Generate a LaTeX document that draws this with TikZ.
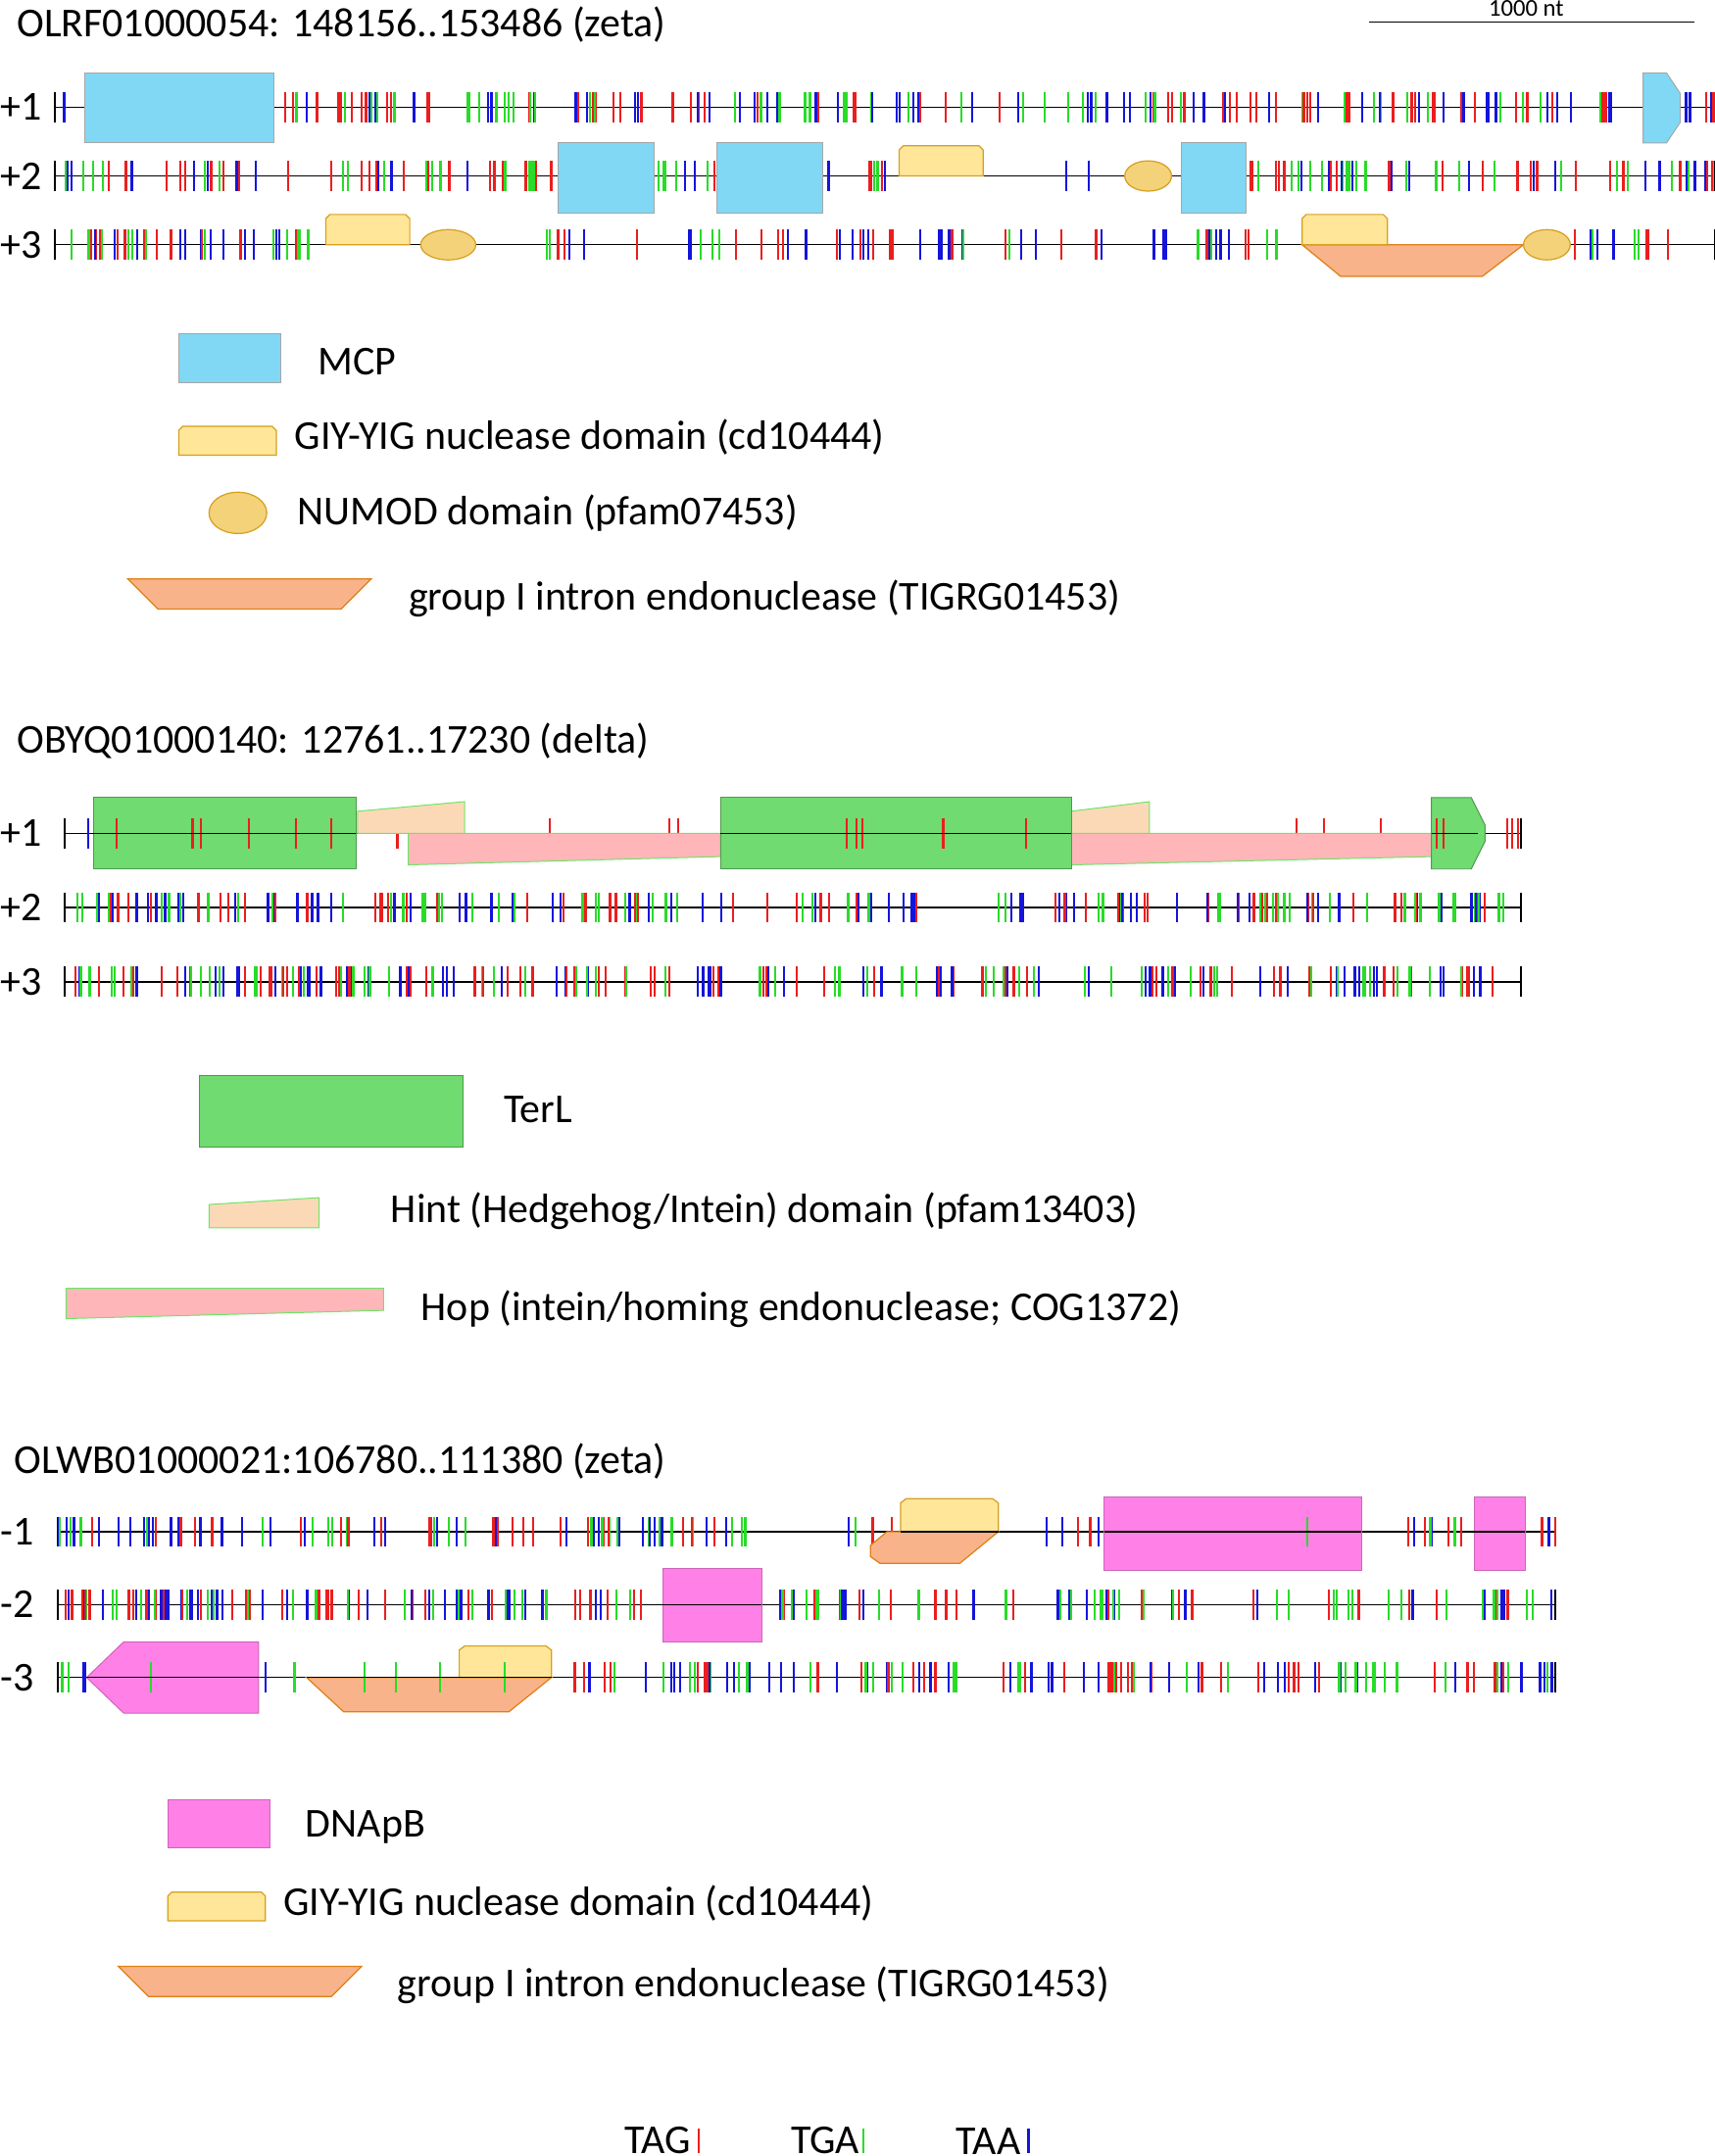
\documentclass[tikz,border=0pt]{standalone}
\usepackage{fontspec}
\setmainfont{Carlito}
\definecolor{c1}{RGB}{235,30,30}
\definecolor{c2}{RGB}{40,220,40}
\definecolor{c3}{RGB}{20,20,220}
\definecolor{mcp}{RGB}{128,216,245}
\definecolor{giy}{RGB}{255,230,153}
\definecolor{giyd}{RGB}{214,160,30}
\definecolor{numod}{RGB}{244,210,122}
\definecolor{intr}{RGB}{249,179,138}
\definecolor{terl}{RGB}{112,219,112}
\definecolor{hint}{RGB}{252,217,182}
\definecolor{hop}{RGB}{255,182,185}
\definecolor{dnap}{RGB}{255,128,230}
\tikzset{
 lab/.style={anchor=west,font=\fontsize{17}{20}\selectfont,inner sep=0},
 mcpb/.style={fill=mcp,draw=gray!70},
 giyb/.style={fill=giy,draw=giyd,line width=0.5pt},
 numb/.style={fill=numod,draw=giyd,line width=0.5pt},
 intb/.style={fill=intr,draw=giyd!80!red,line width=0.5pt},
 terb/.style={fill=terl,draw=terl!70!black,line width=0.4pt},
 hinb/.style={fill=hint,draw=c2!70,line width=0.4pt},
 hopb/.style={fill=hop,draw=c2!70,line width=0.4pt},
 dnab/.style={fill=dnap,draw=dnap!80!black,line width=0.4pt},
 tk/.style={line width=0.9pt}
}
\newcommand\stk[4]{\foreach \i in {1,...,#4}{\pgfmathsetmacro\xx{#2+rnd*(#3-#2)}\pgfmathparse{int(random(1,3))}\edef\cc{\pgfmathresult}\draw[tk,c\cc] (\xx,#1-11)--(\xx,#1+11);}}
\newcommand\trk[3]{\draw[line width=0.6pt] (#2,#1)--(#3,#1);\draw[line width=0.6pt] (#2,#1-11)--(#2,#1+11) (#3,#1-11)--(#3,#1+11);}
\begin{document}
\begin{tikzpicture}[x=0.02cm,y=-0.02cm]
\pgfmathsetseed{4242}
\useasboundingbox (0,0) rectangle (1247,1568);
% ===== section 1
\node[lab] (t1) at (12,18) {OLRF01000054: 148156..153486 (zeta)};
\draw[line width=0.6pt] (996,16)--(1232,16);
\node[font=\fontsize{10}{11}\selectfont,inner sep=0] (sb) at (1110,6) {1000 nt};
\foreach \y/\l in {78/+1,128/+2,178/+3}{\node[lab] at (0,\y) {\l};}
\trk{78}{40}{1247}\trk{128}{40}{1247}\trk{178}{40}{1247}
\stk{78}{40}{62}{2}\stk{78}{199}{240}{4}\stk{78}{230}{900}{110}\stk{78}{900}{1190}{40}\stk{78}{1222}{1247}{6}
\stk{78}{970}{1140}{12}
\stk{128}{40}{210}{22}\stk{128}{240}{406}{30}\stk{128}{476}{521}{8}\stk{128}{598}{645}{7}\stk{128}{760}{800}{2}\stk{128}{906}{1247}{55}
\stk{178}{40}{225}{38}\stk{178}{390}{560}{16}\stk{178}{560}{940}{45}\stk{178}{1140}{1247}{10}
\draw[mcpb] (62,53) rectangle (199,104);
\draw[mcpb] (1195,53)--(1212,53)--(1222,68)--(1222,89)--(1212,104)--(1195,104)--cycle;
\draw[mcpb] (406,104) rectangle (476,155);
\draw[mcpb] (521,104) rectangle (598,155);
\draw[mcpb] (859,104) rectangle (906,155);
\draw[giyb] (654,128)--(654,109)--(657,106)--(712,106)--(715,109)--(715,128)--cycle;
\draw[numb] (835,128) ellipse (17 and 11);
\draw[giyb] (237,178)--(237,159)--(240,156)--(295,156)--(298,159)--(298,178)--cycle;
\draw[numb] (326,178) ellipse (20 and 11);
\draw[intb] (947,178)--(1108,178)--(1078,201)--(975,201)--cycle;
\draw[giyb] (947,178)--(947,159)--(950,156)--(1006,156)--(1009,159)--(1009,178)--cycle;
\draw[numb] (1125,178) ellipse (17 and 11);
% legend 1
\draw[mcpb] (130,243) rectangle (204,278); \node[lab] at (231,263) {MCP};
\draw[giyb] (130,331)--(130,313)--(133,310)--(198,310)--(201,313)--(201,331)--cycle; \node[lab] at (214,318) {GIY-YIG nuclease domain (cd10444)};
\draw[numb] (173,373) ellipse (21 and 15); \node[lab] at (216,373) {NUMOD domain (pfam07453)};
\draw[intb] (93,421)--(270,421)--(248,443)--(115,443)--cycle; \node[lab] at (297,435) {group I intron endonuclease (TIGRG01453)};
% ===== section 2
\node[lab] (t2) at (12,539) {OBYQ01000140: 12761..17230 (delta)};
\foreach \y/\l in {606/+1,660/+2,714/+3}{\node[lab] at (0,\y) {\l};}
\trk{606}{47}{1106}\trk{660}{47}{1106}\trk{714}{47}{1106}
\foreach \x in {85,140,146,181,215,241,289,318,400,487,493,616,623,627,686,746,943,963,1004,1045,1050,1096,1100,1104}{\draw[tk,c1] (\x,595)--(\x,617);}
\draw[tk,c3] (64,595)--(64,617);
\stk{660}{47}{290}{45}\stk{660}{290}{560}{45}\stk{660}{575}{700}{20}\stk{660}{725}{1106}{75}
\stk{714}{47}{1106}{190}
\draw[hopb] (297,606)--(524,606)--(524,623)--(297,629)--cycle;
\draw[hopb] (779,606)--(1041,606)--(1041,623)--(779,629)--cycle;
\draw[hinb] (260,590)--(338,583)--(338,606)--(260,606)--cycle;
\draw[hinb] (779,590)--(836,583)--(836,606)--(779,606)--cycle;
\draw[terb] (68,580) rectangle (259,632);
\draw[terb] (524,580) rectangle (779,632);
\draw[terb] (1041,580)--(1070,580)--(1080,600)--(1080,612)--(1070,632)--(1041,632)--cycle;
\foreach \x in {85,140,146,181,215,241,616,623,627,686,746,1045,1050}{\draw[tk,c1] (\x,595)--(\x,617);}
\draw[line width=0.6pt] (68,606)--(259,606) (524,606)--(779,606) (1041,606)--(1075,606);
% legend 2
\draw[terb] (145,782) rectangle (337,834); \node[lab] at (366,807) {TerL};
\draw[hinb] (152,876)--(232,871)--(232,893)--(152,893)--cycle; \node[lab] at (284,881) {Hint (Hedgehog/Intein) domain (pfam13403)};
\draw[hopb] (48,937)--(279,937)--(279,953)--(48,959)--cycle; \node[lab] at (306,952) {Hop (intein/homing endonuclease; COG1372)};
% ===== section 3
\node[lab] (t3) at (10,1063) {OLWB01000021:106780..111380 (zeta)};
\foreach \y/\l in {1114/-1,1167/-2,1220/-3}{\node[lab] at (0,\y) {\l};}
\trk{1114}{42}{1131}\trk{1167}{42}{1131}\trk{1220}{42}{1131}
\stk{1114}{42}{550}{85}\stk{1114}{610}{650}{3}\stk{1114}{760}{800}{6}\stk{1114}{990}{1072}{9}\stk{1114}{1109}{1131}{4}
\stk{1167}{42}{470}{95}\stk{1167}{554}{1131}{75}
\stk{1220}{42}{63}{4}\stk{1220}{190}{223}{3}\stk{1220}{410}{1131}{120}
\draw[intb] (633,1124)--(645,1114)--(726,1114)--(698,1137)--(640,1137)--(633,1132)--cycle;
\draw[giyb] (655,1114)--(655,1093)--(659,1090)--(722,1090)--(726,1093)--(726,1114)--cycle;
\draw[dnab] (803,1089) rectangle (990,1142);
\draw[dnab] (1072,1089) rectangle (1109,1142);
\draw[dnab] (482,1141) rectangle (554,1194);
\draw[dnab] (63,1220)--(90,1194)--(188,1194)--(188,1246)--(90,1246)--cycle;
\draw[intb] (223,1220)--(401,1220)--(370,1245)--(250,1245)--cycle;
\draw[giyb] (334,1220)--(334,1200)--(338,1197)--(397,1197)--(401,1200)--(401,1220)--cycle;
\foreach \x/\y in {951/1114,110/1220,265/1220,288/1220,320/1220,367/1220,622/1114}{\draw[tk,c2] (\x,\y-11)--(\x,\y+11);}
\draw[line width=0.6pt] (803,1114)--(990,1114) (1072,1114)--(1109,1114) (482,1167)--(554,1167) (63,1220)--(188,1220) (223,1220)--(401,1220) (655,1114)--(726,1114);
% legend 3
\draw[dnab] (122,1309) rectangle (196,1344); \node[lab] at (222,1329) {DNApB};
\draw[giyb] (122,1397)--(122,1379)--(125,1376)--(190,1376)--(193,1379)--(193,1397)--cycle; \node[lab] at (206,1384) {GIY-YIG nuclease domain (cd10444)};
\draw[intb] (86,1430)--(263,1430)--(241,1452)--(108,1452)--cycle; \node[lab] at (289,1444) {group I intron endonuclease (TIGRG01453)};
% key
\node[lab,anchor=south west] (k1) at (454,1567) {TAG}; \draw[tk,c1] (508,1548)--(508,1566);
\node[lab,anchor=south west] (k2) at (575,1567) {TGA}; \draw[tk,c2] (628,1548)--(628,1566);
\node[lab,anchor=south west] (k3) at (695,1567) {TAA}; \draw[tk,c3] (748,1548)--(748,1566);
\end{tikzpicture}
\end{document}
